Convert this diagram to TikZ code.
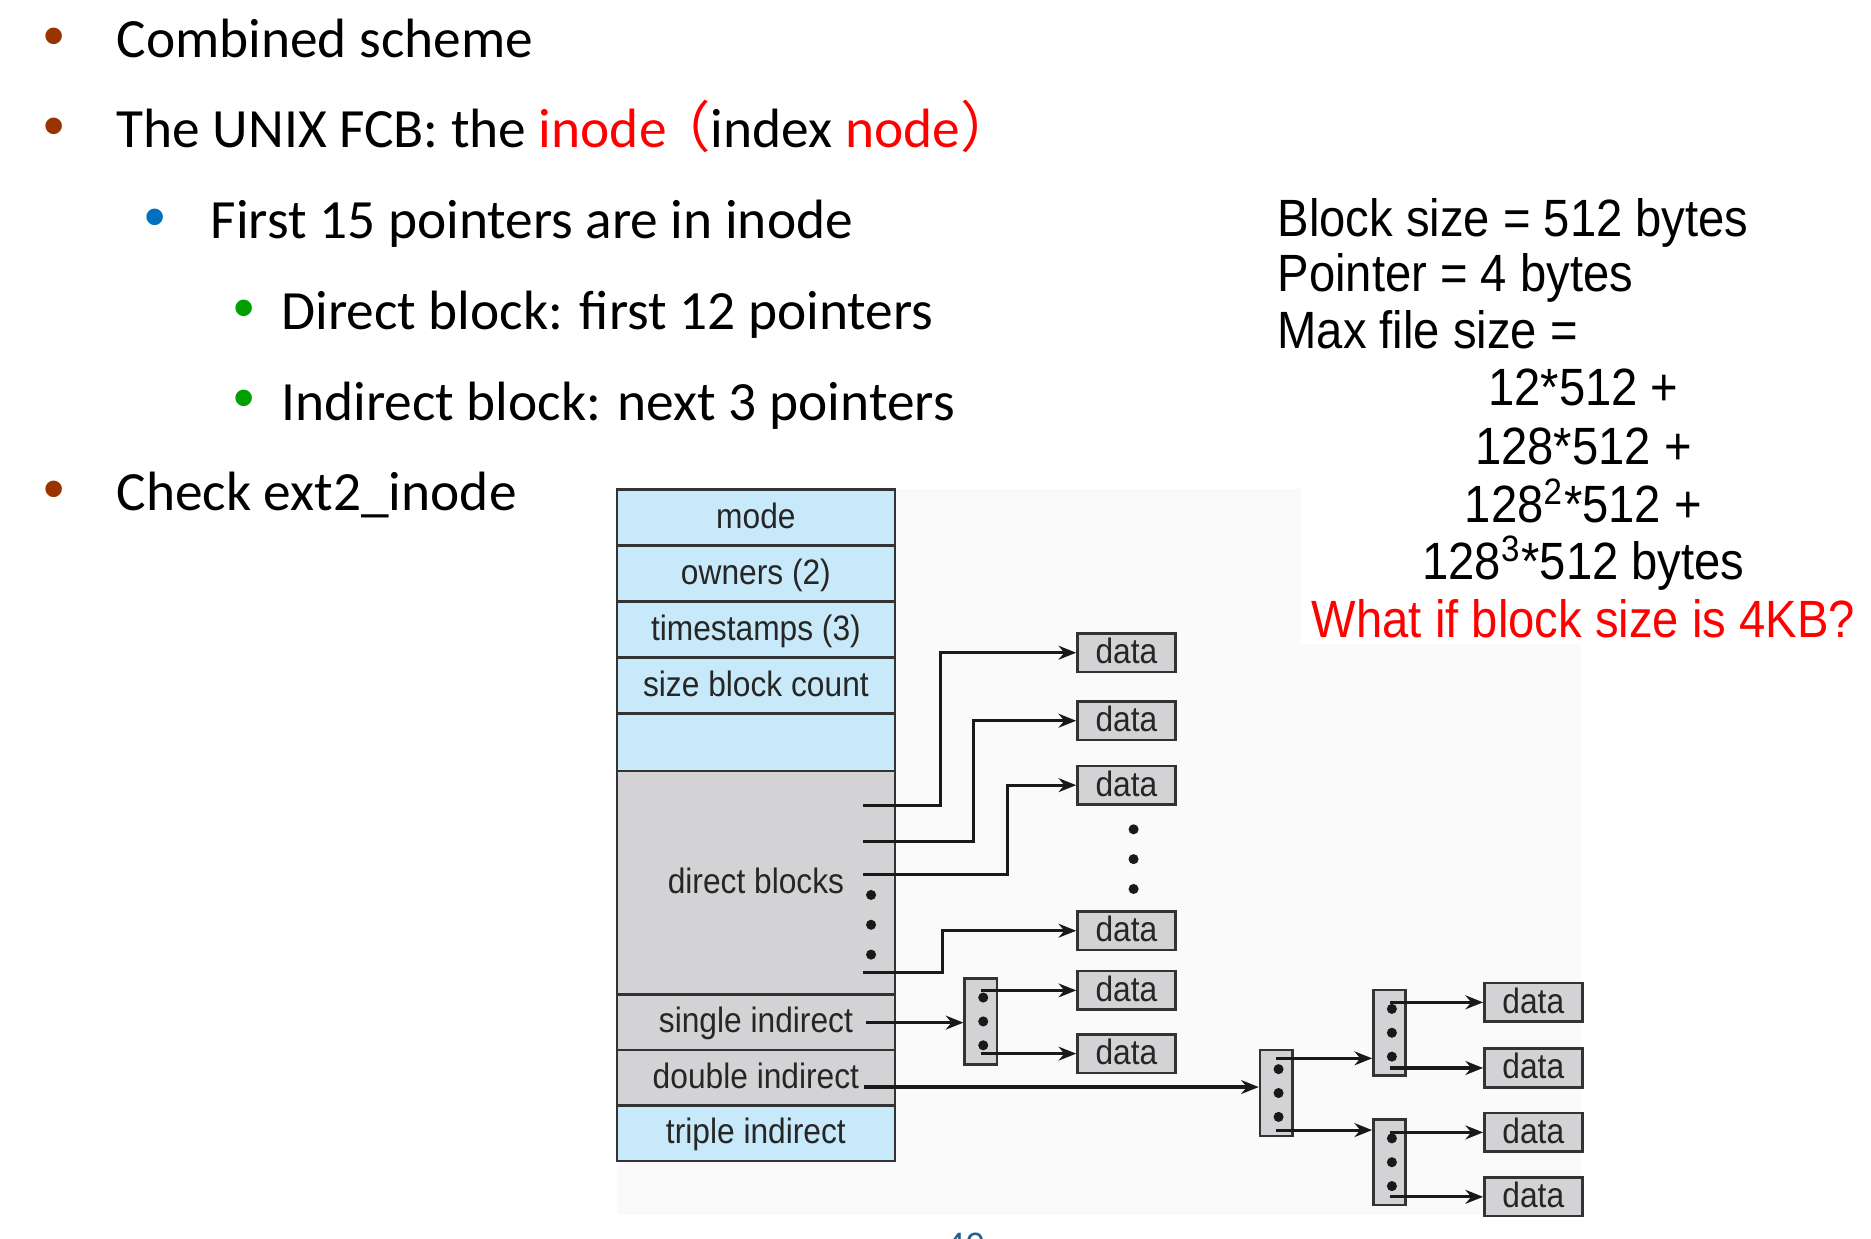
\documentclass[tikz,border=0pt]{standalone}
\usepackage{fontspec}
\usepackage{xcolor}
\usepackage{tikz}
\usetikzlibrary{arrows.meta,positioning,calc}
\setmainfont{Carlito}
\newfontfamily\arialn[FakeStretch=0.9]{Liberation Sans}
\newfontfamily\bulletfont{Liberation Sans}
\newfontfamily\cjk{Noto Sans CJK SC}
\definecolor{inodeblue}{RGB}{200,233,249}
\definecolor{blockgray}{RGB}{211,211,213}
\definecolor{figbg}{RGB}{250,250,250}
\definecolor{bulbrown}{RGB}{153,51,0}
\definecolor{bulblue}{RGB}{0,112,192}
\definecolor{bulgreen}{RGB}{0,160,0}
\definecolor{pagenum}{RGB}{31,95,145}

\begin{document}
\begin{tikzpicture}[
  x=0.01cm, y=-0.01cm,
  txt/.style={anchor=base west, inner sep=0pt, font=\fontsize{13.2}{16}\selectfont},
  bul/.style={anchor=base, inner sep=0pt, font=\bulletfont\fontsize{14.5}{16}\selectfont},
  rhs/.style={inner sep=0pt, font=\arialn\fontsize{12.5}{15}\selectfont},
  cell/.style={draw=black!80, line width=0.6pt, minimum width=2.33cm, minimum height=0.47cm,
    inner sep=0pt, outer sep=0pt, text height=0.72em, text depth=0.2em,
    text=black!85, font=\arialn\fontsize{8.4}{10}\selectfont},
  blu/.style={cell, fill=inodeblue},
  gry/.style={cell, fill=blockgray},
  datab/.style={draw=black!80, fill=blockgray, line width=0.6pt, minimum width=0.82cm,
    minimum height=0.28cm, inner sep=0pt, text height=0.72em, text depth=0.2em,
    text=black!85, font=\arialn\fontsize{8.4}{10}\selectfont},
  idx/.style={draw=black!80, fill=blockgray, line width=0.6pt, minimum width=0.27cm,
    minimum height=0.72cm, inner sep=0pt},
  ptr/.style={-{Stealth[length=4.2pt,width=3.3pt]}, line width=0.75pt, black!90},
]
\path[use as bounding box, clip] (0,0) rectangle (1568,1038);

% ---------------- slide text ----------------
\node[bul, text=bulbrown] (b1) at (45,47) {•};
\node[txt] (l1) at (97,48) {Combined scheme};
\node[bul, text=bulbrown] (b2) at (45,123) {•};
\node[txt] (l2) at (97,124) {The UNIX FCB: the \textcolor{red}{inode}\kern-0.2em\textcolor{red}{\cjk （}index \textcolor{red}{node\cjk ）}};
\node[bul, text=bulblue] (b3) at (130,199) {•};
\node[txt] (l3) at (176,200) {First 15 pointers are in inode};
\node[bul, text=bulgreen] (b4) at (205,275) {•};
\node[txt] (l4) at (235,276) {Direct block: first 12 pointers};
\node[bul, text=bulgreen] (b5) at (205,351) {•};
\node[txt] (l5) at (235,352) {Indirect block: next 3 pointers};
\node[bul, text=bulbrown] (b6) at (45,427) {•};
\node[txt] (l6) at (97,428) {Check ext2\_inode};
\node[anchor=base west, inner sep=0pt, text=pagenum, font=\fontsize{9}{10}\selectfont] (pg) at (792,1054) {49};

% ---------------- figure background ----------------
\fill[figbg] (517,410) rectangle (1325,1018);
\fill[white] (1090,150) rectangle (1568,540);

% ---------------- size calculation ----------------
\node[rhs, anchor=base west] (bsize) at (1070,198) {Block size = 512 bytes};
\node[rhs, anchor=base west] (psize) at (1070,244) {Pointer = 4 bytes};
\node[rhs, anchor=base west] (maxf) at (1070,292) {Max file size =};
\node[rhs, anchor=base] (t1) at (1327,340) {12*512 +};
\node[rhs, anchor=base] (t2) at (1327,389) {128*512 +};
\node[rhs, anchor=base] (t3) at (1327,438) {128\textsuperscript{2}*512 +};
\node[rhs, anchor=base] (t4) at (1327,486) {128\textsuperscript{3}*512 bytes};
\node[rhs, anchor=base, text=red] (ask) at (1327,534) {What if block size is 4KB?};

% ---------------- inode ----------------
\node[blu, anchor=north] (mode) at (633.5,410) {mode};
\node[blu, below=0pt of mode] (owners) {owners (2)};
\node[blu, below=0pt of owners] (times) {timestamps (3)};
\node[blu, below=0pt of times] (size) {size block count};
\node[blu, below=0pt of size, minimum height=0.48cm] (blank) {};
\node[gry, below=0pt of blank, minimum height=1.87cm] (direct) {direct blocks};
\node[gry, below=0pt of direct, minimum height=0.465cm] (single) {single indirect};
\node[gry, below=0pt of single, minimum height=0.465cm] (double) {double indirect};
\node[blu, below=0pt of double, minimum height=0.465cm] (triple) {triple indirect};

\coordinate (p1) at (723,675);
\coordinate (p2) at (723,705);
\coordinate (p3) at (723,733);
\coordinate (p4) at (723,815);
\coordinate (s1) at (726,857);
\coordinate (s2) at (724,911);
\foreach \y in {750,775,800} \fill[black!90] (730,\y) circle (1.2pt);

% ---------------- direct data blocks ----------------
\node[datab] (d1) at (944,547) {data};
\node[datab] (d2) at (944,604) {data};
\node[datab] (d3) at (944,658) {data};
\node[datab] (d4) at (944,780) {data};
\node[datab] (d5) at (944,830) {data};
\node[datab] (d6) at (944,883) {data};
\foreach \y in {695,720,745} \fill[black!90] (950,\y) circle (1.2pt);

\draw[ptr] (p1) -- ++(65,0) |- (d1.west);
\draw[ptr] (p2) -- ++(93,0) |- (d2.west);
\draw[ptr] (p3) -- ++(121,0) |- (d3.west);
\draw[ptr] (p4) -- ++(67,0) |- (d4.west);

% ---------------- indirect blocks ----------------
\node[idx] (i1) at (822,856) {};
\node[idx] (i2) at (1069.5,916) {};
\node[idx] (ia) at (1164.5,865.5) {};
\node[idx] (ib) at (1164.5,974) {};
\node[datab, minimum height=0.31cm] (da1) at (1285,840) {data};
\node[datab, minimum height=0.31cm] (da2) at (1285,895) {data};
\node[datab, minimum height=0.31cm] (da3) at (1285,949) {data};
\node[datab, minimum height=0.29cm] (da4) at (1285,1003) {data};
\foreach \b in {i1,i2,ia,ib} \foreach \k in {-20,0,20} \fill[black!90] ($(\b.center)+(2,\k)$) circle (1.2pt);

\draw[ptr] (s1) -- (s1 -| i1.west);
\draw[ptr] (i1.center |- d5.west) -- (d5.west);
\draw[ptr] (i1.center |- d6.west) -- (d6.west);
\draw[ptr] (s2) -- (s2 -| i2.west);
\draw[ptr] ($(i2.north)+(0,8)$) coordinate (i2t) -- (i2t -| ia.west);
\draw[ptr] ($(i2.south)+(0,-6)$) coordinate (i2b) -- (i2b -| ib.west);
\draw[ptr] (ia.center |- da1.west) -- (da1.west);
\draw[ptr] (ia.center |- da2.west) -- (da2.west);
\draw[ptr] (ib.center |- da3.west) -- (da3.west);
\draw[ptr] (ib.center |- da4.west) -- (da4.west);
\end{tikzpicture}
\end{document}
